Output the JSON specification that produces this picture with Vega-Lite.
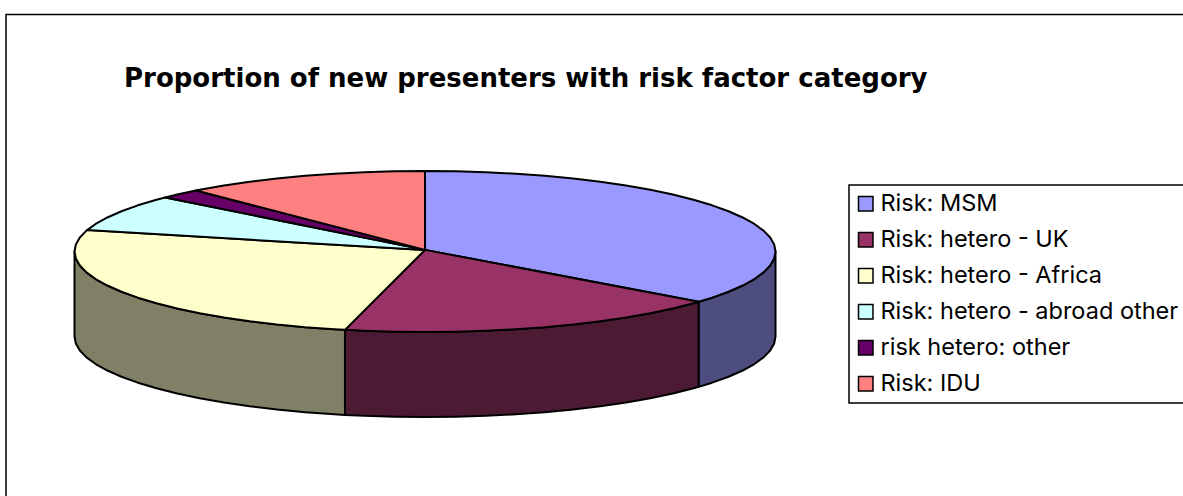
{
"$schema":"https://vega.github.io/schema/vega-lite/v6.json",
"width":1183,"height":496,"padding":0,"autosize":{"type":"none"},
"background":"white",
"title":{"text":"Proportion of new presenters with risk factor category","anchor":"start","frame":"group","dx":124,"dy":112.5,"offset":0,"baseline":"alphabetic","font":"DejaVu Sans","fontSize":26,"fontWeight":"bold","color":"black"},
"config":{"view":{"stroke":null},"legend":{"strokeWidth":1.5}},
"datasets":{
"frame":[{"x":-1.1955,"y":2.944,"x2":2.3,"y2":-3.2}],
"side":[
{"slice":"Risk: MSM","x":1,"y":0,"y2":-1.056},{"slice":"Risk: MSM","x":0.9962,"y":-0.0872,"y2":-1.1432},{"slice":"Risk: MSM","x":0.9848,"y":-0.1736,"y2":-1.2296},{"slice":"Risk: MSM","x":0.9659,"y":-0.2588,"y2":-1.3148},{"slice":"Risk: MSM","x":0.9397,"y":-0.342,"y2":-1.398},{"slice":"Risk: MSM","x":0.9063,"y":-0.4226,"y2":-1.4786},{"slice":"Risk: MSM","x":0.866,"y":-0.5,"y2":-1.556},{"slice":"Risk: MSM","x":0.8192,"y":-0.5736,"y2":-1.6296},{"slice":"Risk: MSM","x":0.7806,"y":-0.6252,"y2":-1.6812},
{"slice":"Risk: hetero - UK","x":0.7806,"y":-0.6252,"y2":-1.6812},{"slice":"Risk: hetero - UK","x":0.766,"y":-0.6428,"y2":-1.6988},{"slice":"Risk: hetero - UK","x":0.7071,"y":-0.7071,"y2":-1.7631},{"slice":"Risk: hetero - UK","x":0.6428,"y":-0.766,"y2":-1.822},{"slice":"Risk: hetero - UK","x":0.5736,"y":-0.8192,"y2":-1.8752},{"slice":"Risk: hetero - UK","x":0.5,"y":-0.866,"y2":-1.922},{"slice":"Risk: hetero - UK","x":0.4226,"y":-0.9063,"y2":-1.9623},{"slice":"Risk: hetero - UK","x":0.342,"y":-0.9397,"y2":-1.9957},{"slice":"Risk: hetero - UK","x":0.2588,"y":-0.9659,"y2":-2.0219},{"slice":"Risk: hetero - UK","x":0.1736,"y":-0.9848,"y2":-2.0408},{"slice":"Risk: hetero - UK","x":0.0872,"y":-0.9962,"y2":-2.0522},{"slice":"Risk: hetero - UK","x":0,"y":-1,"y2":-2.056},{"slice":"Risk: hetero - UK","x":-0.0872,"y":-0.9962,"y2":-2.0522},{"slice":"Risk: hetero - UK","x":-0.1736,"y":-0.9848,"y2":-2.0408},{"slice":"Risk: hetero - UK","x":-0.2284,"y":-0.9736,"y2":-2.0296},
{"slice":"Risk: hetero - Africa","x":-0.2284,"y":-0.9736,"y2":-2.0296},{"slice":"Risk: hetero - Africa","x":-0.2588,"y":-0.9659,"y2":-2.0219},{"slice":"Risk: hetero - Africa","x":-0.342,"y":-0.9397,"y2":-1.9957},{"slice":"Risk: hetero - Africa","x":-0.4226,"y":-0.9063,"y2":-1.9623},{"slice":"Risk: hetero - Africa","x":-0.5,"y":-0.866,"y2":-1.922},{"slice":"Risk: hetero - Africa","x":-0.5736,"y":-0.8192,"y2":-1.8752},{"slice":"Risk: hetero - Africa","x":-0.6428,"y":-0.766,"y2":-1.822},{"slice":"Risk: hetero - Africa","x":-0.7071,"y":-0.7071,"y2":-1.7631},{"slice":"Risk: hetero - Africa","x":-0.766,"y":-0.6428,"y2":-1.6988},{"slice":"Risk: hetero - Africa","x":-0.8192,"y":-0.5736,"y2":-1.6296},{"slice":"Risk: hetero - Africa","x":-0.866,"y":-0.5,"y2":-1.556},{"slice":"Risk: hetero - Africa","x":-0.9063,"y":-0.4226,"y2":-1.4786},{"slice":"Risk: hetero - Africa","x":-0.9397,"y":-0.342,"y2":-1.398},{"slice":"Risk: hetero - Africa","x":-0.9659,"y":-0.2588,"y2":-1.3148},{"slice":"Risk: hetero - Africa","x":-0.9848,"y":-0.1736,"y2":-1.2296},{"slice":"Risk: hetero - Africa","x":-0.9962,"y":-0.0872,"y2":-1.1432},{"slice":"Risk: hetero - Africa","x":-1,"y":0,"y2":-1.056}
],
"top":[
{"slice":"Risk: MSM","i":0,"x":0,"y":0.02},{"slice":"Risk: MSM","i":1,"x":0,"y":1},{"slice":"Risk: MSM","i":2,"x":0.0872,"y":0.9962},{"slice":"Risk: MSM","i":3,"x":0.1736,"y":0.9848},{"slice":"Risk: MSM","i":4,"x":0.2588,"y":0.9659},{"slice":"Risk: MSM","i":5,"x":0.342,"y":0.9397},{"slice":"Risk: MSM","i":6,"x":0.4226,"y":0.9063},{"slice":"Risk: MSM","i":7,"x":0.5,"y":0.866},{"slice":"Risk: MSM","i":8,"x":0.5736,"y":0.8192},{"slice":"Risk: MSM","i":9,"x":0.6428,"y":0.766},{"slice":"Risk: MSM","i":10,"x":0.7071,"y":0.7071},{"slice":"Risk: MSM","i":11,"x":0.766,"y":0.6428},{"slice":"Risk: MSM","i":12,"x":0.8192,"y":0.5736},{"slice":"Risk: MSM","i":13,"x":0.866,"y":0.5},{"slice":"Risk: MSM","i":14,"x":0.9063,"y":0.4226},{"slice":"Risk: MSM","i":15,"x":0.9397,"y":0.342},{"slice":"Risk: MSM","i":16,"x":0.9659,"y":0.2588},{"slice":"Risk: MSM","i":17,"x":0.9848,"y":0.1736},{"slice":"Risk: MSM","i":18,"x":0.9962,"y":0.0872},{"slice":"Risk: MSM","i":19,"x":1,"y":0},{"slice":"Risk: MSM","i":20,"x":0.9962,"y":-0.0872},{"slice":"Risk: MSM","i":21,"x":0.9848,"y":-0.1736},{"slice":"Risk: MSM","i":22,"x":0.9659,"y":-0.2588},{"slice":"Risk: MSM","i":23,"x":0.9397,"y":-0.342},{"slice":"Risk: MSM","i":24,"x":0.9063,"y":-0.4226},{"slice":"Risk: MSM","i":25,"x":0.866,"y":-0.5},{"slice":"Risk: MSM","i":26,"x":0.8192,"y":-0.5736},{"slice":"Risk: MSM","i":27,"x":0.7806,"y":-0.6252},{"slice":"Risk: MSM","i":28,"x":0,"y":0.02},
{"slice":"Risk: hetero - UK","i":0,"x":0,"y":0.02},{"slice":"Risk: hetero - UK","i":1,"x":0.7806,"y":-0.6252},{"slice":"Risk: hetero - UK","i":2,"x":0.766,"y":-0.6428},{"slice":"Risk: hetero - UK","i":3,"x":0.7071,"y":-0.7071},{"slice":"Risk: hetero - UK","i":4,"x":0.6428,"y":-0.766},{"slice":"Risk: hetero - UK","i":5,"x":0.5736,"y":-0.8192},{"slice":"Risk: hetero - UK","i":6,"x":0.5,"y":-0.866},{"slice":"Risk: hetero - UK","i":7,"x":0.4226,"y":-0.9063},{"slice":"Risk: hetero - UK","i":8,"x":0.342,"y":-0.9397},{"slice":"Risk: hetero - UK","i":9,"x":0.2588,"y":-0.9659},{"slice":"Risk: hetero - UK","i":10,"x":0.1736,"y":-0.9848},{"slice":"Risk: hetero - UK","i":11,"x":0.0872,"y":-0.9962},{"slice":"Risk: hetero - UK","i":12,"x":0,"y":-1},{"slice":"Risk: hetero - UK","i":13,"x":-0.0872,"y":-0.9962},{"slice":"Risk: hetero - UK","i":14,"x":-0.1736,"y":-0.9848},{"slice":"Risk: hetero - UK","i":15,"x":-0.2284,"y":-0.9736},{"slice":"Risk: hetero - UK","i":16,"x":0,"y":0.02},
{"slice":"Risk: hetero - Africa","i":0,"x":0,"y":0.02},{"slice":"Risk: hetero - Africa","i":1,"x":-0.2284,"y":-0.9736},{"slice":"Risk: hetero - Africa","i":2,"x":-0.2588,"y":-0.9659},{"slice":"Risk: hetero - Africa","i":3,"x":-0.342,"y":-0.9397},{"slice":"Risk: hetero - Africa","i":4,"x":-0.4226,"y":-0.9063},{"slice":"Risk: hetero - Africa","i":5,"x":-0.5,"y":-0.866},{"slice":"Risk: hetero - Africa","i":6,"x":-0.5736,"y":-0.8192},{"slice":"Risk: hetero - Africa","i":7,"x":-0.6428,"y":-0.766},{"slice":"Risk: hetero - Africa","i":8,"x":-0.7071,"y":-0.7071},{"slice":"Risk: hetero - Africa","i":9,"x":-0.766,"y":-0.6428},{"slice":"Risk: hetero - Africa","i":10,"x":-0.8192,"y":-0.5736},{"slice":"Risk: hetero - Africa","i":11,"x":-0.866,"y":-0.5},{"slice":"Risk: hetero - Africa","i":12,"x":-0.9063,"y":-0.4226},{"slice":"Risk: hetero - Africa","i":13,"x":-0.9397,"y":-0.342},{"slice":"Risk: hetero - Africa","i":14,"x":-0.9659,"y":-0.2588},{"slice":"Risk: hetero - Africa","i":15,"x":-0.9848,"y":-0.1736},{"slice":"Risk: hetero - Africa","i":16,"x":-0.9962,"y":-0.0872},{"slice":"Risk: hetero - Africa","i":17,"x":-1,"y":0},{"slice":"Risk: hetero - Africa","i":18,"x":-0.9962,"y":0.0872},{"slice":"Risk: hetero - Africa","i":19,"x":-0.9848,"y":0.1736},{"slice":"Risk: hetero - Africa","i":20,"x":-0.9659,"y":0.2588},{"slice":"Risk: hetero - Africa","i":21,"x":-0.9641,"y":0.2656},{"slice":"Risk: hetero - Africa","i":22,"x":0,"y":0.02},
{"slice":"Risk: hetero - abroad other","i":0,"x":0,"y":0.02},{"slice":"Risk: hetero - abroad other","i":1,"x":-0.9641,"y":0.2656},{"slice":"Risk: hetero - abroad other","i":2,"x":-0.9397,"y":0.342},{"slice":"Risk: hetero - abroad other","i":3,"x":-0.9063,"y":0.4226},{"slice":"Risk: hetero - abroad other","i":4,"x":-0.866,"y":0.5},{"slice":"Risk: hetero - abroad other","i":5,"x":-0.8192,"y":0.5736},{"slice":"Risk: hetero - abroad other","i":6,"x":-0.766,"y":0.6428},{"slice":"Risk: hetero - abroad other","i":7,"x":-0.7412,"y":0.6713},{"slice":"Risk: hetero - abroad other","i":8,"x":0,"y":0.02},
{"slice":"risk hetero: other","i":0,"x":0,"y":0.02},{"slice":"risk hetero: other","i":1,"x":-0.7412,"y":0.6713},{"slice":"risk hetero: other","i":2,"x":-0.7071,"y":0.7071},{"slice":"risk hetero: other","i":3,"x":-0.6534,"y":0.757},{"slice":"risk hetero: other","i":4,"x":0,"y":0.02},
{"slice":"Risk: IDU","i":0,"x":0,"y":0.02},{"slice":"Risk: IDU","i":1,"x":-0.6534,"y":0.757},{"slice":"Risk: IDU","i":2,"x":-0.6428,"y":0.766},{"slice":"Risk: IDU","i":3,"x":-0.5736,"y":0.8192},{"slice":"Risk: IDU","i":4,"x":-0.5,"y":0.866},{"slice":"Risk: IDU","i":5,"x":-0.4226,"y":0.9063},{"slice":"Risk: IDU","i":6,"x":-0.342,"y":0.9397},{"slice":"Risk: IDU","i":7,"x":-0.2588,"y":0.9659},{"slice":"Risk: IDU","i":8,"x":-0.1736,"y":0.9848},{"slice":"Risk: IDU","i":9,"x":-0.0872,"y":0.9962},{"slice":"Risk: IDU","i":10,"x":0,"y":1},{"slice":"Risk: IDU","i":11,"x":0,"y":0.02}
]
},
"encoding":{
  "x":{"field":"x","type":"quantitative","scale":{"domain":[-1.2126,2.1626],"nice":false,"zero":false},"axis":null},
  "y":{"field":"y","type":"quantitative","scale":{"domain":[-3.0373,3.1242],"nice":false,"zero":false},"axis":null}
},
"layer":[
{"data":{"name":"frame"},
 "mark":{"type":"rect","fill":null,"stroke":"black","strokeWidth":1.5,"clip":true},
 "encoding":{"x2":{"field":"x2"},"y2":{"field":"y2"}}},
{"data":{"name":"side"},
 "mark":{"type":"area","stroke":"black","strokeWidth":2,"strokeJoin":"round"},
 "encoding":{
  "y2":{"field":"y2"},
  "fill":{"field":"slice","type":"nominal","legend":null,
    "scale":{"domain":["Risk: MSM","Risk: hetero - UK","Risk: hetero - Africa"],"range":["#4D4D80","#4D1A33","#808066"]}}}},
{"data":{"name":"top"},
 "mark":{"type":"line","stroke":"black","strokeWidth":2,"strokeJoin":"round"},
 "encoding":{
  "order":{"field":"i","type":"quantitative"},
  "fill":{"field":"slice","type":"nominal",
    "scale":{"domain":["Risk: MSM","Risk: hetero - UK","Risk: hetero - Africa","Risk: hetero - abroad other","risk hetero: other","Risk: IDU"],"range":["#9999FF","#993366","#FFFFCC","#CCFFFF","#660066","#FF8080"]},
    "legend":{"title":null,"orient":"none","legendX":849,"legendY":185,"direction":"vertical","symbolType":"square","symbolSize":210,"symbolOffset":-2,"symbolStrokeColor":"black","symbolStrokeWidth":1.5,"labelFont":"Inter","labelFontSize":23.5,"labelColor":"black","labelOffset":3,"labelLimit":400,"rowPadding":11,"strokeColor":"black","padding":7,"fillColor":"white"}}}}
],
"resolve":{"scale":{"fill":"independent"}}
}
